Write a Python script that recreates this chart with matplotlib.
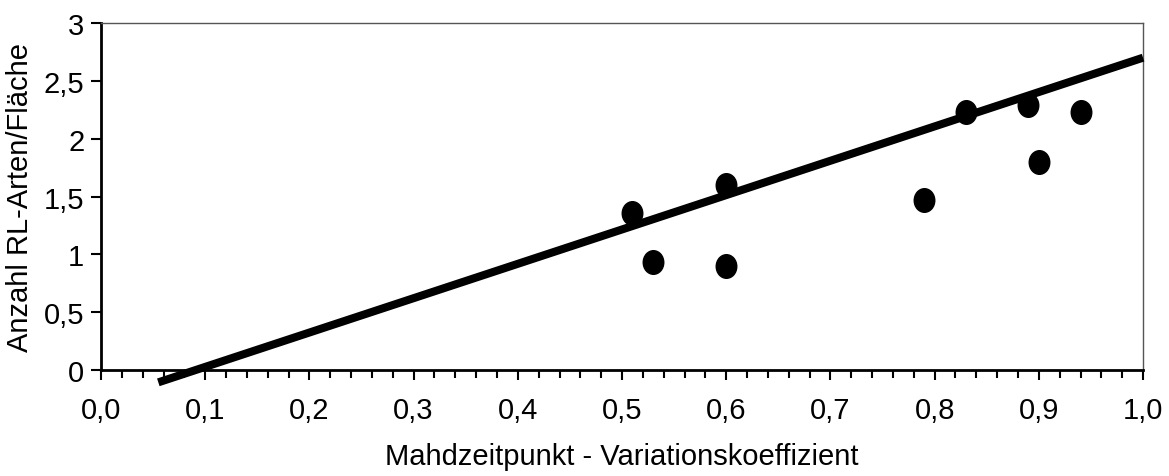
import matplotlib.pyplot as plt
from matplotlib.path import Path
from matplotlib.ticker import MultipleLocator, FuncFormatter

plt.rcParams['font.family'] = ['Liberation Sans', 'DejaVu Sans']

# Messpunkte
x_werte = [0.51, 0.53, 0.60, 0.60, 0.79, 0.83, 0.89, 0.90, 0.94]
y_werte = [1.36, 0.93, 1.60, 0.90, 1.47, 2.23, 2.29, 1.80, 2.23]

# Trendlinie (Start- und Endpunkt x)
trend_x = [0.055, 1.0]
steigung = 2.97
achsenabschnitt = -0.27

trend_y = [steigung * v + achsenabschnitt for v in trend_x]

# etwas hoeher als breit, wie im Original
kreis = Path.unit_circle()
ellipse = Path(kreis.vertices * [0.87, 1.0], kreis.codes)

fig = plt.figure(figsize=(11.69, 4.77), dpi=100)
ax = fig.add_axes([0.0864, 0.2222, 0.8914, 0.7275])

ax.plot(trend_x, trend_y, color='black', lw=5.8, solid_capstyle='butt', clip_on=False, zorder=3)
ax.plot(x_werte, y_werte, linestyle='none', marker=ellipse, color='black', ms=17, zorder=4)

ax.set_xlim(0, 1.0)
ax.set_ylim(0, 3)
ax.xaxis.set_major_locator(MultipleLocator(0.1))
ax.xaxis.set_minor_locator(MultipleLocator(0.02))
ax.yaxis.set_major_locator(MultipleLocator(0.5))

ax.xaxis.set_major_formatter(FuncFormatter(lambda v, p: f'{v:.1f}'.replace('.', ',')))
ax.yaxis.set_major_formatter(FuncFormatter(lambda v, p: f'{v:g}'.replace('.', ',')))

ax.tick_params(axis='both', which='major', labelsize=21, length=7, width=1.5, direction='out', color='black')
ax.tick_params(axis='x', which='minor', length=6, width=1.5)
ax.tick_params(axis='x', pad=12)
ax.tick_params(axis='y', pad=5)

for s in ['left', 'bottom']:
    ax.spines[s].set_linewidth(2)
    ax.spines[s].set_color('black')
for s in ['top', 'right']:
    ax.spines[s].set_linewidth(1)
    ax.spines[s].set_color('#555555')

ax.set_xlabel('Mahdzeitpunkt - Variationskoeffizient', fontsize=21, labelpad=13)
ax.set_ylabel('Anzahl RL-Arten/Fläche', fontsize=21, labelpad=7)

fig.savefig('out.png', dpi=100)
